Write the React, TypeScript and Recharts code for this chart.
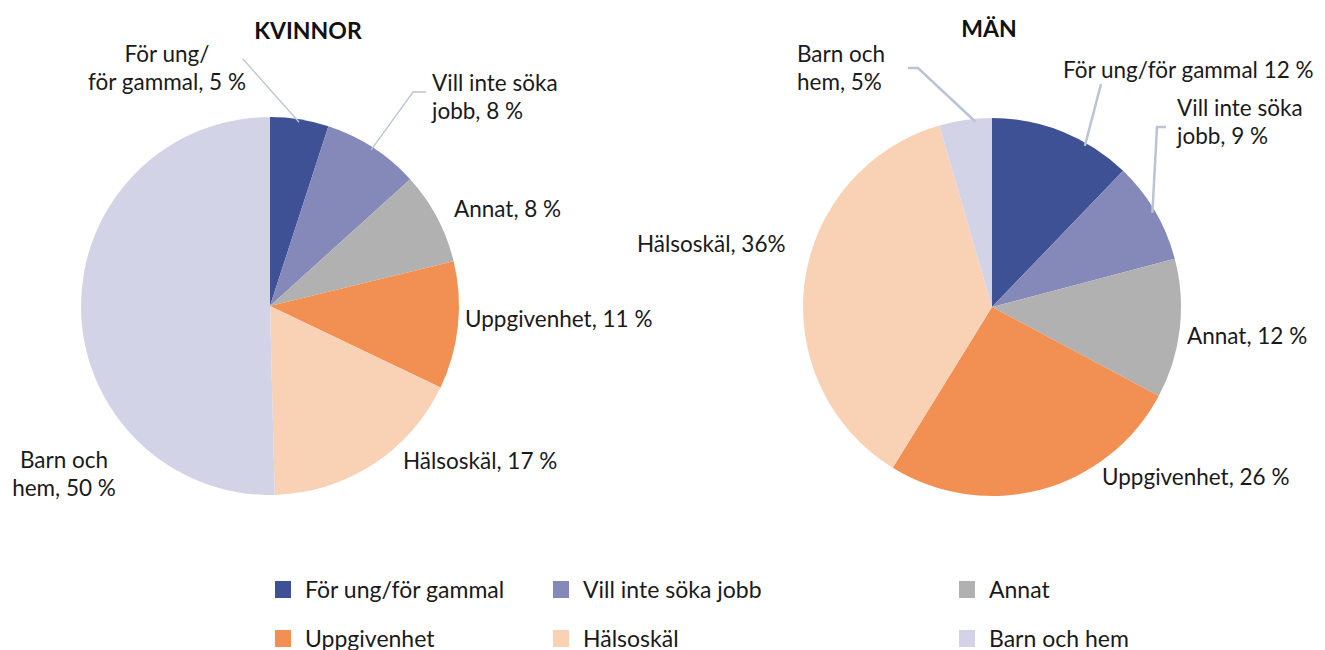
import React from 'react';
import { PieChart, Pie, Cell, Legend } from 'recharts';

const categories = ['För ung/för gammal', 'Vill inte söka jobb', 'Annat', 'Uppgivenhet', 'Hälsoskäl', 'Barn och hem'];
const colors = ['#3d5194', '#8589b9', '#b1b1b1', '#f28f52', '#f9d1b5', '#d3d3e7'];

const womenValues = [5.0, 8.3, 7.9, 10.9, 17.5, 50.4];
const menValues = [12.2, 8.7, 11.9, 26.0, 36.7, 4.5];

const womenLabels = [
  ['För ung/', 'för gammal, 5 %'],
  ['Vill inte söka', 'jobb, 8 %'],
  ['Annat, 8 %'],
  ['Uppgivenhet, 11 %'],
  ['Hälsoskäl, 17 %'],
  ['Barn och', 'hem, 50 %'],
];
const menLabels = [
  ['För ung/för gammal 12 %'],
  ['Vill inte söka', 'jobb, 9 %'],
  ['Annat, 12 %'],
  ['Uppgivenhet, 26 %'],
  ['Hälsoskäl, 36%'],
  ['Barn och', 'hem, 5%'],
];

const FONT = 'Lato, "Open Sans", sans-serif';
const LEADER = '#b9c5d3';

// label placement: x, y of first line (center), anchor, optional leader knee points
type Place = { x: number; y: number; anchor: 'start' | 'middle'; knee?: number[][]; lw?: number; shift?: number };

const womenPlace: Place[] = [
  { x: 167, y: 53, anchor: 'middle', knee: [[243, 59]], lw: 1.3 },
  { x: 432, y: 82, anchor: 'start', knee: [[426, 92], [413, 92]], lw: 1.3 },
  { x: 454, y: 208, anchor: 'start' },
  { x: 465, y: 318, anchor: 'start' },
  { x: 403, y: 460, anchor: 'start' },
  { x: 64, y: 459, anchor: 'middle' },
];
const menPlace: Place[] = [
  { x: 1063, y: 69, anchor: 'start', knee: [[1101, 84]], lw: 2.5, shift: -8 },
  { x: 1177, y: 107, anchor: 'start', knee: [[1166, 127], [1157, 127]], lw: 2.5 },
  { x: 1187, y: 335, anchor: 'start' },
  { x: 1102, y: 476, anchor: 'start' },
  { x: 637, y: 243, anchor: 'start' },
  { x: 797, y: 53, anchor: 'start', knee: [[908, 68], [918, 68]], lw: 2.5, shift: -3 },
];

const womenData = categories.map((name, i) => ({ name, value: womenValues[i] }));
const menData = categories.map((name, i) => ({ name, value: menValues[i] }));

const RAD = Math.PI / 180;

const makeLabel = (labels: string[][], places: Place[]) => (props: any) => {
  const { cx, cy, midAngle, outerRadius, index } = props;
  const p = places[index];
  const lines = labels[index];
  let leader = null;
  if (p.knee) {
    const a = midAngle + (p.shift || 0);
    const ex = cx + (outerRadius - 3) * Math.cos(-a * RAD);
    const ey = cy + (outerRadius - 3) * Math.sin(-a * RAD);
    const pts = [...p.knee, [ex, ey]].map((q) => q.join(',')).join(' ');
    leader = <polyline points={pts} fill="none" stroke={LEADER} strokeWidth={p.lw} />;
  }
  return (
    <g key={`lbl-${index}`}>
      {leader}
      <text x={p.x} y={p.y} textAnchor={p.anchor} fontFamily={FONT} fontSize={22.5} fill="#1a1a1a" dominantBaseline="central">
        {lines.map((l, j) => (
          <tspan key={j} x={p.x} dy={j === 0 ? 0 : 28}>{l}</tspan>
        ))}
      </text>
    </g>
  );
};

const LegendContent = () => {
  const cols = [275, 553, 959];
  const rows = [589, 638];
  return (
    <div style={{ position: 'relative', width: 1325, height: 80 }}>
      {categories.map((c, i) => (
        <div
          key={c}
          style={{
            position: 'absolute',
            left: cols[i % 3],
            top: rows[Math.floor(i / 3)] - 575 - 12,
            display: 'flex',
            alignItems: 'center',
            fontFamily: FONT,
            fontSize: 23,
            color: '#1a1a1a',
            height: 24,
            whiteSpace: 'nowrap',
          }}
        >
          <span style={{ display: 'inline-block', width: 16, height: 17, background: colors[i], marginRight: 14 }} />
          {c}
        </div>
      ))}
    </div>
  );
};

export default function App() {
  return (
    <div style={{ position: 'absolute', left: 0, top: 0, width: 1325, height: 650, background: '#fff' }}>
      <PieChart width={1325} height={650} margin={{ top: 0, right: 0, bottom: 0, left: 0 }}>
        <text x={308} y={30} textAnchor="middle" dominantBaseline="central" fontFamily={FONT} fontSize={23} fontWeight={700} fill="#111">
          KVINNOR
        </text>
        <text x={989} y={28} textAnchor="middle" dominantBaseline="central" fontFamily={FONT} fontSize={23} fontWeight={700} fill="#111">
          MÄN
        </text>
        <Pie
          data={womenData}
          dataKey="value"
          nameKey="name"
          cx={270}
          cy={306}
          outerRadius={189}
          startAngle={90}
          endAngle={-270}
          stroke="none"
          label={makeLabel(womenLabels, womenPlace)}
          labelLine={false}
          isAnimationActive={false}
        >
          {womenData.map((d, i) => (
            <Cell key={d.name} fill={colors[i]} />
          ))}
        </Pie>
        <Pie
          data={menData}
          dataKey="value"
          nameKey="name"
          cx={992}
          cy={307}
          outerRadius={189}
          startAngle={90}
          endAngle={-270}
          stroke="none"
          label={makeLabel(menLabels, menPlace)}
          labelLine={false}
          isAnimationActive={false}
        >
          {menData.map((d, i) => (
            <Cell key={d.name} fill={colors[i]} />
          ))}
        </Pie>
        <Legend content={<LegendContent />} wrapperStyle={{ left: 0, top: 575, width: 1325 }} />
      </PieChart>
    </div>
  );
}
